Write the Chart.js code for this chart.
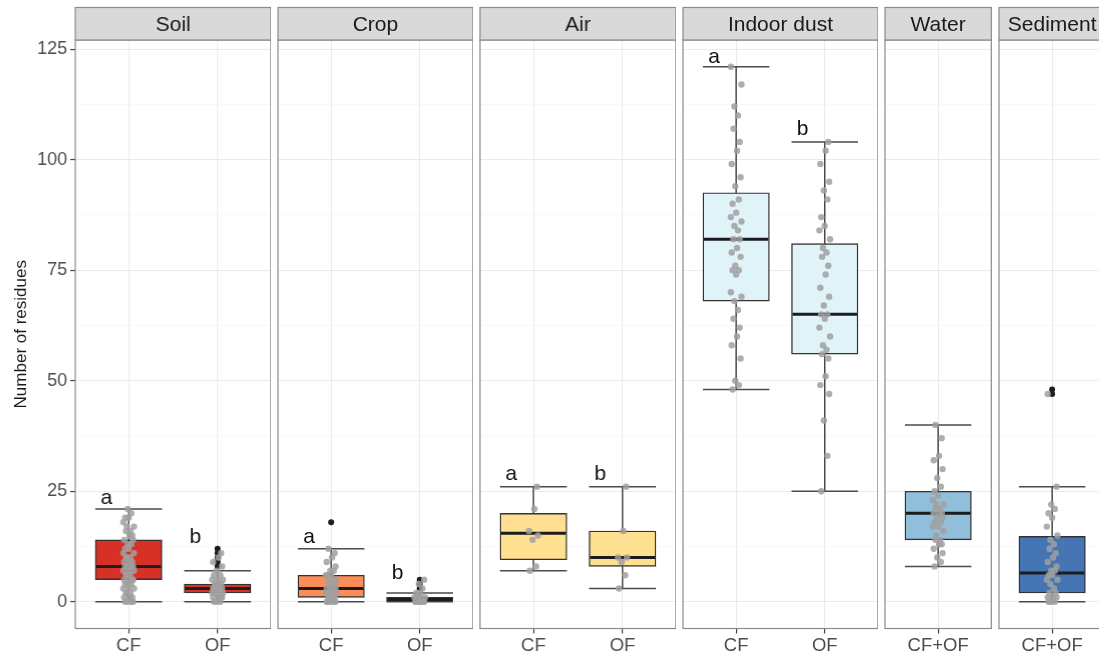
<!DOCTYPE html>
<html>
<head>
<meta charset="utf-8">
<script src="https://cdn.jsdelivr.net/npm/chart.js@4.4.0/dist/chart.umd.min.js"></script>
<style>
  html, body { margin: 0; padding: 0; background: #fff; overflow: hidden; }
  body { width: 1099px; height: 651px; position: relative; }
  .panel { position: absolute; top: 0; height: 651px; }
</style>
</head>
<body>
<script>
// facets and groups
const panels = ['Soil', 'Crop', 'Air', 'Indoor dust', 'Water', 'Sediment'];
const groups = [['CF', 'OF'], ['CF', 'OF'], ['CF', 'OF'], ['CF', 'OF'], ['CF+OF'], ['CF+OF']];
const fills = ['#D73027', '#FC8D59', '#FEE090', '#E0F3F8', '#91BFDB', '#4575B4'];

// box plot stats, per facet then per group
const lowerWhisker = [[0, 0], [0, 0], [7, 3], [48, 25], [8], [0]];
const q1 = [[5, 2], [1, 0], [9.5, 8], [68, 56], [14], [2]];
const medians = [[8, 3], [3, 0.5], [15.5, 10], [82, 65], [20], [6.5]];
const q3 = [[14, 4], [6, 1], [20, 16], [92.5, 81], [25], [14.8]];
const upperWhisker = [[21, 7], [12, 2], [26, 26], [121, 104], [40], [26]];
const outliers = [[[], [8, 9, 10, 11, 12]], [[18], [3, 4, 5]], [[], []], [[], []], [[]], [[47, 48]]];

// significance letters
const letters = [['a', 'b'], ['a', 'b'], ['a', 'b'], ['a', 'b'], [], []];
const letterY = [[22, 13.2], [13.4, 5.1], [27.5, 27.5], [121.8, 105.5], [], []];

// raw observations (jittered points)
const soilCF = [0, 0, 0, 0, 1, 1, 1, 2, 2, 2, 3, 3, 3, 4, 4, 4, 5, 5, 5, 5, 6, 6, 6, 7, 7, 7, 8, 8, 8, 8, 9, 9, 9, 10, 10, 10, 11, 11, 12, 12, 13, 13, 14, 14, 15, 15, 16, 16, 17, 17, 18, 19, 19, 20, 21];
const soilOF = [0, 0, 0, 1, 1, 1, 1, 2, 2, 2, 2, 2, 3, 3, 3, 3, 3, 3, 3, 4, 4, 4, 4, 5, 5, 5, 6, 6, 7, 8, 9, 10, 11];
const cropCF = [0, 0, 0, 0, 0, 1, 1, 1, 1, 1, 2, 2, 2, 2, 3, 3, 3, 3, 4, 4, 4, 5, 5, 5, 6, 6, 6, 7, 7, 8, 9, 10, 11, 12];
const cropOF = [0, 0, 0, 0, 0, 0, 0, 1, 1, 1, 1, 1, 2, 2, 3, 4, 5];
const airCF = [7, 8, 14, 15, 16, 21, 26];
const airOF = [3, 6, 9, 10, 10, 16, 26];
const dustCF = [48, 49, 50, 55, 58, 60, 62, 64, 66, 68, 69, 70, 74, 75, 75, 76, 78, 79, 80, 82, 82, 84, 85, 86, 87, 88, 90, 91, 94, 96, 99, 102, 104, 107, 110, 112, 117, 121];
const dustOF = [25, 33, 41, 47, 49, 51, 55, 56, 57, 58, 60, 62, 64, 65, 65, 67, 69, 71, 74, 76, 78, 79, 80, 82, 84, 85, 87, 91, 93, 95, 99, 102, 104];
const water = [8, 9, 10, 11, 12, 13, 13, 14, 14, 15, 16, 17, 17, 18, 18, 19, 19, 20, 20, 20, 21, 21, 22, 22, 23, 24, 25, 26, 28, 30, 32, 33, 37, 40];
const sediment = [0, 0, 0, 1, 1, 1, 2, 2, 3, 4, 5, 5, 6, 6, 7, 7, 8, 9, 10, 11, 12, 13, 14, 15, 17, 19, 20, 21, 22, 26, 47];
const points = [[soilCF, soilOF], [cropCF, cropOF], [airCF, airOF], [dustCF, dustOF], [water], [sediment]];

// y axis
const yGrid = [0, 12.5, 25, 37.5, 50, 62.5, 75, 87.5, 100, 112.5, 125];
const yTicks = [0, 25, 50, 75, 100, 125];
const yTitle = 'Number of residues';

// layout
const UNIT = 88.6;        // px per category step
const BOX_W = 0.75;
const GAP = 7.6;
const STRIP_TOP = 7.5, PLOT_TOP = 40, PLOT_BOTTOM = 628.5, H = 651;
const Y_MIN = -6.05, Y_MAX = 127.05;
const jitter = [-0.04, 0.03, -0.01, 0.05, -0.05, 0.01, 0.04, -0.03, 0.02, -0.02, 0.06, -0.06, 0];

Chart.defaults.font.family = '"Liberation Sans", Arial, sans-serif';

function panelPlugin(p) {
  const cats = groups[p];
  return {
    id: 'panel' + p,
    beforeDatasetsDraw(chart) {
      const { ctx, scales: { x, y } } = chart;
      ctx.save();
      ctx.strokeStyle = '#4a4a4a';
      ctx.lineWidth = 1.5;
      cats.forEach((c, g) => {
        const cx = x.getPixelForValue(g + 1);
        const hw = x.getPixelForValue(g + 1 + BOX_W / 2) - cx;
        const lo = y.getPixelForValue(lowerWhisker[p][g]);
        const hi = y.getPixelForValue(upperWhisker[p][g]);
        ctx.beginPath();
        ctx.moveTo(cx, lo); ctx.lineTo(cx, hi);
        ctx.moveTo(cx - hw, lo); ctx.lineTo(cx + hw, lo);
        ctx.moveTo(cx - hw, hi); ctx.lineTo(cx + hw, hi);
        ctx.stroke();
      });
      ctx.restore();
    },
    afterDatasetDraw(chart, args) {
      if (args.index !== 0) return;
      const { ctx, scales: { x, y } } = chart;
      ctx.save();
      ctx.strokeStyle = '#1c1c1c';
      ctx.lineWidth = 3;
      cats.forEach((c, g) => {
        const cx = x.getPixelForValue(g + 1);
        const hw = x.getPixelForValue(g + 1 + BOX_W / 2) - cx;
        const m = y.getPixelForValue(medians[p][g]);
        ctx.beginPath();
        ctx.moveTo(cx - hw + 1, m); ctx.lineTo(cx + hw - 1, m);
        ctx.stroke();
      });
      ctx.restore();
    },
    afterDatasetsDraw(chart) {
      const { ctx, scales: { x, y } } = chart;
      ctx.save();
      ctx.fillStyle = '#111';
      ctx.font = '21px "Liberation Sans", Arial, sans-serif';
      ctx.textAlign = 'center';
      ctx.textBaseline = 'alphabetic';
      letters[p].forEach((l, g) => {
        ctx.fillText(l, x.getPixelForValue(g + 1 - 0.25), y.getPixelForValue(letterY[p][g]));
      });
      ctx.restore();
    },
    afterDraw(chart) {
      const { ctx, chartArea: a } = chart;
      ctx.save();
      ctx.strokeStyle = '#8a8a8a';
      ctx.lineWidth = 1.2;
      ctx.strokeRect(a.left, a.top, a.right - a.left, a.bottom - a.top);
      ctx.fillStyle = '#d9d9d9';
      ctx.fillRect(a.left, STRIP_TOP, a.right - a.left, a.top - STRIP_TOP);
      ctx.strokeRect(a.left, STRIP_TOP, a.right - a.left, a.top - STRIP_TOP);
      ctx.fillStyle = '#1a1a1a';
      ctx.font = '21px "Liberation Sans", Arial, sans-serif';
      ctx.textAlign = 'center';
      ctx.textBaseline = 'middle';
      ctx.fillText(panels[p], (a.left + a.right) / 2, (STRIP_TOP + a.top) / 2 + 1);
      ctx.restore();
    }
  };
}

let left = 75;
panels.forEach((name, p) => {
  const cats = groups[p];
  const w = (cats.length + 0.2) * UNIT;
  const first = p === 0;
  const padL = first ? 0 : 1;
  const yAxisW = first ? 75 : 0;

  const div = document.createElement('div');
  div.className = 'panel';
  div.style.left = (left - yAxisW - padL) + 'px';
  div.style.width = (w + yAxisW + padL + 1) + 'px';
  const canvas = document.createElement('canvas');
  div.appendChild(canvas);
  document.body.appendChild(div);

  const boxData = cats.map((c, g) => ({ x: g + 1, y: [q1[p][g], q3[p][g]] }));
  const outData = [];
  outliers[p].forEach((vals, g) => vals.forEach(v => outData.push({ x: g + 1, y: v })));
  const ptData = [];
  points[p].forEach((vals, g) => vals.forEach((v, i) => ptData.push({ x: g + 1 + jitter[i % jitter.length], y: v })));

  new Chart(canvas, {
    type: 'bar',
    data: {
      datasets: [
        {
          type: 'bar', data: boxData, backgroundColor: fills[p], borderColor: '#333',
          borderWidth: 1.4, borderSkipped: false, barThickness: BOX_W * UNIT, grouped: false, order: 3
        },
        {
          type: 'scatter', data: outData, pointRadius: 3, backgroundColor: '#1e1e1e',
          borderWidth: 0, order: 2
        },
        {
          type: 'scatter', data: ptData, pointRadius: 3.2, backgroundColor: 'rgba(160,160,160,0.85)',
          borderWidth: 0, order: 1
        }
      ]
    },
    options: {
      responsive: true,
      maintainAspectRatio: false,
      animation: false,
      layout: { autoPadding: false, padding: { top: PLOT_TOP, bottom: 0, left: padL, right: 1 } },
      plugins: { legend: { display: false }, tooltip: { enabled: false } },
      scales: {
        x: {
          type: 'linear', min: 0.4, max: cats.length + 0.6, offset: false,
          afterBuildTicks: a => { a.ticks = cats.map((c, g) => ({ value: g + 1 })); },
          afterFit: s => { s.height = H - PLOT_BOTTOM; s.paddingLeft = 0; s.paddingRight = 0; },
          ticks: {
            callback: v => cats[v - 1], color: '#4d4d4d', font: { size: 18.5 },
            padding: 1, autoSkip: false, maxRotation: 0
          },
          grid: { color: '#ebebeb', lineWidth: 1.1, offset: false, tickLength: 5, tickColor: '#444', tickWidth: 1.2 },
          border: { display: false }
        },
        y: {
          type: 'linear', min: Y_MIN, max: Y_MAX,
          afterBuildTicks: a => { a.ticks = yGrid.map(v => ({ value: v })); },
          afterFit: s => { s.width = yAxisW; },
          ticks: {
            display: first, autoSkip: false, color: '#4d4d4d', font: { size: 18 }, padding: 3,
            callback: v => yTicks.includes(v) ? String(v) : ''
          },
          grid: {
            color: c => yTicks.includes(c.tick.value) ? '#ebebeb' : '#f5f5f5',
            lineWidth: c => yTicks.includes(c.tick.value) ? 1.1 : 0.7,
            drawTicks: first, tickLength: 5, tickWidth: 1.2,
            tickColor: c => yTicks.includes(c.tick.value) ? '#444' : 'rgba(0,0,0,0)'
          },
          border: { display: false },
          title: {
            display: first, text: yTitle, color: '#1a1a1a', font: { size: 17 },
            padding: { top: 11, bottom: 0 }
          }
        }
      }
    },
    plugins: [panelPlugin(p)]
  });

  left += w + GAP;
});
</script>
</body>
</html>
